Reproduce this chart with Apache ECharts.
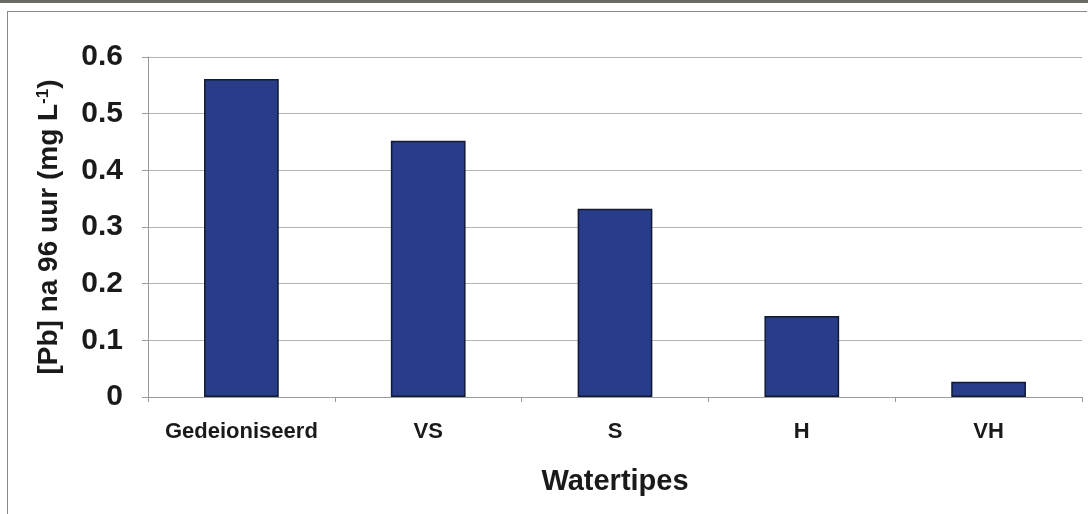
<!DOCTYPE html>
<html>
<head>
<meta charset="utf-8">
<script src="https://cdn.jsdelivr.net/npm/echarts@6/dist/echarts.min.js"></script>
<style>
  html, body { margin: 0; padding: 0; background: #fff; }
  #frame { position: absolute; left: 7px; top: 11px; width: 1079px; height: 505px; border: 1px solid #8a8a8a; border-right: none; border-bottom: none; }
  #topbar { position: absolute; left: 0; top: 0; width: 1088px; height: 3px; background: #6a6a62; }
  #chart { position: absolute; left: 0; top: 0; width: 1088px; height: 514px; }
</style>
</head>
<body>
<div id="topbar"></div>
<div id="frame"></div>
<div id="chart"></div>
<script>
// waterkategorieë en Pb-konsentrasie na 96 uur
var categories = ['Gedeioniseerd', 'VS', 'S', 'H', 'VH']
var pbValues = [0.561, 0.452, 0.332, 0.143, 0.027]
var yTicks = [0, 0.1, 0.2, 0.3, 0.4, 0.5, 0.6]

var myChart = echarts.init(document.getElementById('chart'))
var font = 'Liberation Sans, Arial, sans-serif'
var option = {
  backgroundColor: 'transparent',
  animation: false,
  grid: {
    left: 148,
    right: 6,
    top: 57,
    bottom: 117
  },
  xAxis: {
    type: 'category',
    data: categories,
    name: 'Watertipes',
    nameLocation: 'middle',
    nameGap: 70,
    nameTextStyle: {
      fontFamily: font,
      fontWeight: 'bold',
      fontSize: 29,
      color: '#1a1a1a'
    },
    axisLine: { lineStyle: { color: '#9a9a9a', width: 1 } },
    axisTick: { show: true, interval: 0, alignWithLabel: false, length: 5, lineStyle: { color: '#9a9a9a' } },
    axisLabel: {
      interval: 0,
      margin: 24,
      fontFamily: font,
      fontWeight: 'bold',
      fontSize: 22,
      color: '#1a1a1a'
    }
  },
  yAxis: {
    type: 'value',
    min: yTicks[0],
    max: yTicks[yTicks.length - 1],
    interval: 0.1,
    name: '{t|[Pb] na 96 uur (mg L}{s|-1}{t|)}',
    nameLocation: 'middle',
    nameGap: 84,
    nameTextStyle: {
      rich: {
        t: { fontFamily: font, fontWeight: 'bold', fontSize: 28, color: '#1a1a1a' },
        s: { fontFamily: font, fontWeight: 'bold', fontSize: 17, color: '#1a1a1a', verticalAlign: 'top', padding: [0, 0, 12, 0] }
      }
    },
    axisLine: { show: true, lineStyle: { color: '#9a9a9a', width: 1 } },
    axisTick: { show: true, inside: false, length: 6, lineStyle: { color: '#9a9a9a' } },
    axisLabel: {
      margin: 25,
      fontFamily: font,
      fontWeight: 'bold',
      fontSize: 30,
      color: '#1a1a1a',
      formatter: function (v) { return v === 0 ? '0' : v.toFixed(1) }
    },
    splitLine: { show: true, lineStyle: { color: '#b4b4b4', width: 1 } }
  },
  series: [
    {
      type: 'bar',
      data: pbValues,
      barWidth: '40%',
      itemStyle: {
        color: '#283c8a',
        borderColor: '#111a33',
        borderWidth: 1.5
      }
    }
  ]
}
myChart.setOption(option)
</script>
</body>
</html>
